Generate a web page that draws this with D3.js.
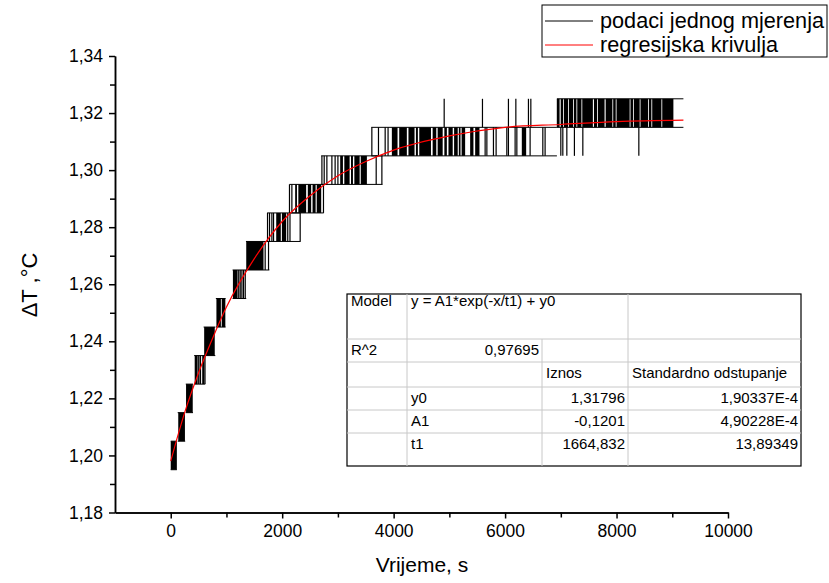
<!DOCTYPE html>
<html lang="hr">
<head>
<meta charset="utf-8">
<title>Promjena temperature u vremenu</title>
<script src="https://d3js.org/d3.v7.min.js"></script>
<style>
    body
    {
        margin: 0;
        background-color: #ffffff;
    }
    svg text
    {
        font-family: "Liberation Sans", Arial, sans-serif;
        fill: #000000;
    }
</style>
</head>
<body>
<div id="chart"></div>
<script>
"use strict";

// pojasevi signala: [od (s), do (s), donja razina]; signal skace izmedju razine i razine + 0,01
var pojasevi = [
    [0, 110, 1.195], [125, 260, 1.205], [270, 400, 1.215], [420, 620, 1.225],
    [590, 800, 1.235], [810, 985, 1.245], [1110, 1355, 1.255], [1350, 1770, 1.265],
    [1730, 2330, 1.275], [2130, 2745, 1.285], [2700, 3800, 1.295], [3600, 6930, 1.305],
    [6930, 9200, 1.315]
];

// gusti dijelovi (puno prijelaza, izgleda kao crni blok): [od, do, razina]
var gusto = [
    [0, 110, 1.195], [135, 255, 1.205], [275, 395, 1.215],
    [430, 475, 1.225], [520, 545, 1.225], [565, 605, 1.225],
    [600, 790, 1.235], [820, 900, 1.245], [915, 980, 1.245],
    [1116, 1200, 1.255], [1355, 1665, 1.265],
    [1893, 1975, 1.275], [1995, 2072, 1.275],
    [2233, 2265, 1.285], [2290, 2430, 1.285], [2460, 2520, 1.285], [2545, 2600, 1.285], [2620, 2700, 1.285],
    [3041, 3090, 1.295], [3115, 3210, 1.295], [3235, 3270, 1.295], [3295, 3390, 1.295], [3410, 3520, 1.295],
    [3968, 4070, 1.305], [4100, 4237, 1.305], [4266, 4375, 1.305], [4400, 4435, 1.305], [4460, 4670, 1.305],
    [4700, 4765, 1.305], [4790, 4880, 1.305], [4910, 4955, 1.305], [4984, 5060, 1.305], [5085, 5150, 1.305],
    [5170, 5200, 1.305], [5220, 5283, 1.305], [5373, 5432, 1.305], [5463, 5540, 1.305], [6300, 6378, 1.305],
    [6928, 6978, 1.315], [6998, 7040, 1.315], [7055, 7130, 1.315], [7145, 7220, 1.315], [7235, 7280, 1.315],
    [7295, 7370, 1.315], [7385, 7575, 1.315], [7595, 7650, 1.315], [7665, 7785, 1.315], [7805, 7925, 1.315],
    [7940, 7985, 1.315], [8000, 8235, 1.315], [8250, 8295, 1.315], [8310, 8415, 1.315], [8430, 8565, 1.315],
    [8580, 8625, 1.315], [8640, 8805, 1.315], [8820, 9020, 1.315]
];

// pojedinacni prijelazi: [vrijeme, donja razina]
var crte = [
    [490, 1.225], [505, 1.225], [615, 1.225],
    [1220, 1.255], [1247, 1.255], [1277, 1.255], [1306, 1.255], [1337, 1.255],
    [1695, 1.265], [1755, 1.265],
    [1737, 1.275], [1773, 1.275], [1815, 1.275], [1845, 1.275], [2100, 1.275], [2140, 1.275], [2323, 1.275],
    [2131, 1.285], [2174, 1.285], [2741, 1.285],
    [2713, 1.295], [2754, 1.295], [2802, 1.295], [2892, 1.295], [2950, 1.295], [3000, 1.295], [3687, 1.295], [3789, 1.295],
    [3609, 1.305], [3728, 1.305], [3848, 1.305], [3900, 1.305], [5642, 1.305], [5673, 1.305], [5791, 1.305],
    [5839, 1.305], [6031, 1.305], [6060, 1.305], [6180, 1.305], [6211, 1.305], [6449, 1.305], [6677, 1.305],
    [6718, 1.305], [7000, 1.305], [7036, 1.305], [7108, 1.305], [7244, 1.305], [7395, 1.305], [8400, 1.305],
    [4907, 1.315], [5594, 1.315], [6060, 1.315], [6193, 1.315], [6419, 1.315], [6462, 1.315]
];

// regresijska krivulja, ocitano sa slike
var vrijemeFit = [0, 250, 500, 750, 1000, 1500, 2000, 2500, 3000, 3500, 4000, 5000, 6000, 7000, 8000, 9200];
var dTFit = [1.198, 1.215, 1.229, 1.241, 1.252, 1.269, 1.282, 1.291, 1.298, 1.303, 1.307, 1.312, 1.315, 1.316, 1.317, 1.3175];

var xTicks = [0, 2000, 4000, 6000, 8000, 10000];
var xMinor = [1000, 3000, 5000, 7000, 9000];
var yTicks = [1.18, 1.20, 1.22, 1.24, 1.26, 1.28, 1.30, 1.32, 1.34];
var yMinor = [1.19, 1.21, 1.23, 1.25, 1.27, 1.29, 1.31, 1.33];

var legendaTekst = ["podaci jednog mjerenja", "regresijska krivulja"];
var legendaBoje = ["#000000", "#ff0000"];

// tablica parametara prilagodbe
var tablicaModel = ["Model", "y = A1*exp(-x/t1) + y0"];
var tablicaR2 = ["R^2", "0,97695"];
var tablicaZaglavlje = ["Iznos", "Standardno odstupanje"];
var parametri = ["y0", "A1", "t1"];
var iznosi = ["1,31796", "-0,1201", "1664,832"];
var odstupanja = ["1,90337E-4", "4,90228E-4", "13,89349"];

var svg_width = 829;
var svg_height = 583;

var svg = d3.select("#chart")
    .append("svg")
    .attr("width", svg_width)
    .attr("height", svg_height);

var xscale = d3.scaleLinear().domain([-1000, 10000]).range([115, 728]);
var yscale = d3.scaleLinear().domain([1.18, 1.34]).range([512.5, 56]);

var zarez = function(d) { return d3.format(".2f")(d).replace(".", ","); };

// osi
var xos = svg.append("g").attr("transform", "translate(0," + yscale(1.18) + ")");
xos.call(d3.axisBottom(xscale).tickValues(xTicks).tickSize(6).tickSizeOuter(0).tickPadding(6).tickFormat(d3.format("d")));
xos.append("g").call(d3.axisBottom(xscale).tickValues(xMinor).tickSize(5).tickSizeOuter(0).tickFormat(""));

var yos = svg.append("g").attr("transform", "translate(" + xscale(-1000) + ",0)");
yos.call(d3.axisLeft(yscale).tickValues(yTicks).tickSize(6).tickSizeOuter(0).tickPadding(6).tickFormat(zarez));
yos.append("g").call(d3.axisLeft(yscale).tickValues(yMinor).tickSize(5).tickSizeOuter(0).tickFormat(""));

svg.selectAll(".domain").attr("stroke", "#000").attr("stroke-width", 1.5);
svg.selectAll(".tick line").attr("stroke", "#000").attr("stroke-width", 1.5);
svg.selectAll(".tick text").style("font-size", "17.5px").attr("fill", "#000");

svg.append("text")
    .attr("x", 422)
    .attr("y", 572)
    .attr("text-anchor", "middle")
    .style("font-size", "21px")
    .text("Vrijeme, s");

svg.append("text")
    .attr("transform", "translate(37,285) rotate(-90)")
    .attr("text-anchor", "middle")
    .style("font-size", "22px")
    .text("\u0394T ,\u00B0C");

// mjereni signal
var signal = svg.append("g").attr("id", "signal");

signal.selectAll("line.gore")
    .data(pojasevi)
    .enter()
    .append("line")
    .attr("x1", function(d) { return xscale(d[0]); })
    .attr("x2", function(d) { return xscale(d[1]); })
    .attr("y1", function(d) { return yscale(d[2] + 0.01); })
    .attr("y2", function(d) { return yscale(d[2] + 0.01); })
    .attr("stroke", "#000")
    .attr("stroke-width", 1);

signal.selectAll("line.dolje")
    .data(pojasevi)
    .enter()
    .append("line")
    .attr("x1", function(d) { return xscale(d[0]); })
    .attr("x2", function(d) { return xscale(d[1]); })
    .attr("y1", function(d) { return yscale(d[2]); })
    .attr("y2", function(d) { return yscale(d[2]); })
    .attr("stroke", "#000")
    .attr("stroke-width", 1);

signal.selectAll("rect")
    .data(gusto)
    .enter()
    .append("rect")
    .attr("x", function(d) { return xscale(d[0]); })
    .attr("width", function(d) { return xscale(d[1]) - xscale(d[0]); })
    .attr("y", function(d) { return yscale(d[2] + 0.01); })
    .attr("height", function(d) { return yscale(d[2]) - yscale(d[2] + 0.01); })
    .attr("fill", "#000");

signal.selectAll("line.crta")
    .data(crte)
    .enter()
    .append("line")
    .attr("x1", function(d) { return xscale(d[0]); })
    .attr("x2", function(d) { return xscale(d[0]); })
    .attr("y1", function(d) { return yscale(d[1]); })
    .attr("y2", function(d) { return yscale(d[1] + 0.01); })
    .attr("stroke", "#000")
    .attr("stroke-width", 1.2);

// regresijska krivulja
var fitData = vrijemeFit.map(function(t, i) { return [t, dTFit[i]]; });
var linija = d3.line()
    .x(function(d) { return xscale(d[0]); })
    .y(function(d) { return yscale(d[1]); })
    .curve(d3.curveMonotoneX);

svg.append("path")
    .datum(fitData)
    .attr("d", linija)
    .attr("fill", "none")
    .attr("stroke", "#ff0000")
    .attr("stroke-width", 1.2);

// legenda
var legenda = svg.append("g");
legenda.append("rect")
    .attr("x", 542).attr("y", 5)
    .attr("width", 285).attr("height", 52)
    .attr("fill", "#fff").attr("stroke", "#000").attr("stroke-width", 1);

legendaTekst.forEach(function(t, i)
{
    var yy = 21 + i * 24;
    legenda.append("line")
        .attr("x1", 545).attr("x2", 593)
        .attr("y1", yy).attr("y2", yy)
        .attr("stroke", legendaBoje[i]).attr("stroke-width", 1);
    legenda.append("text")
        .attr("x", 600)
        .attr("y", yy + 7)
        .style("font-size", "21.5px")
        .attr("textLength", i == 0 ? 224 : 178)
        .attr("lengthAdjust", "spacingAndGlyphs")
        .text(t);
});

// tablica
var tab = svg.append("g").attr("id", "tablica");
var stupci = [347, 407, 542, 628, 801];
var redovi = [294, 339, 362, 387, 410, 433, 466];

tab.append("rect")
    .attr("x", stupci[0]).attr("y", redovi[0])
    .attr("width", stupci[4] - stupci[0]).attr("height", redovi[6] - redovi[0])
    .attr("fill", "#fff").attr("stroke", "#000").attr("stroke-width", 1.2);

redovi.slice(1, 6).forEach(function(r)
{
    tab.append("line")
        .attr("x1", stupci[0]).attr("x2", stupci[4])
        .attr("y1", r).attr("y2", r)
        .attr("stroke", "#c8c8c8").attr("stroke-width", 1);
});
[stupci[1], stupci[3]].forEach(function(s)
{
    tab.append("line")
        .attr("x1", s).attr("x2", s)
        .attr("y1", redovi[0]).attr("y2", redovi[6])
        .attr("stroke", "#c8c8c8").attr("stroke-width", 1);
});
tab.append("line")
    .attr("x1", stupci[2]).attr("x2", stupci[2])
    .attr("y1", redovi[1]).attr("y2", redovi[6])
    .attr("stroke", "#c8c8c8").attr("stroke-width", 1);

function celija(tekst, stupac, red, desno)
{
    var x = desno ? stupci[stupac + 1] - 3 : stupci[stupac] + 4;
    var y = red == 0 ? redovi[0] + 12 : redovi[red] + 16;
    tab.append("text")
        .attr("x", x)
        .attr("y", y)
        .attr("text-anchor", desno ? "end" : "start")
        .style("font-size", "15px")
        .text(tekst);
}

celija(tablicaModel[0], 0, 0, false);
celija(tablicaModel[1], 1, 0, false);
celija(tablicaR2[0], 0, 1, false);
celija(tablicaR2[1], 1, 1, true);
celija(tablicaZaglavlje[0], 2, 2, false);
celija(tablicaZaglavlje[1], 3, 2, false);
parametri.forEach(function(p, i)
{
    celija(p, 1, 3 + i, false);
    celija(iznosi[i], 2, 3 + i, true);
    celija(odstupanja[i], 3, 3 + i, true);
});
</script>
</body>
</html>
